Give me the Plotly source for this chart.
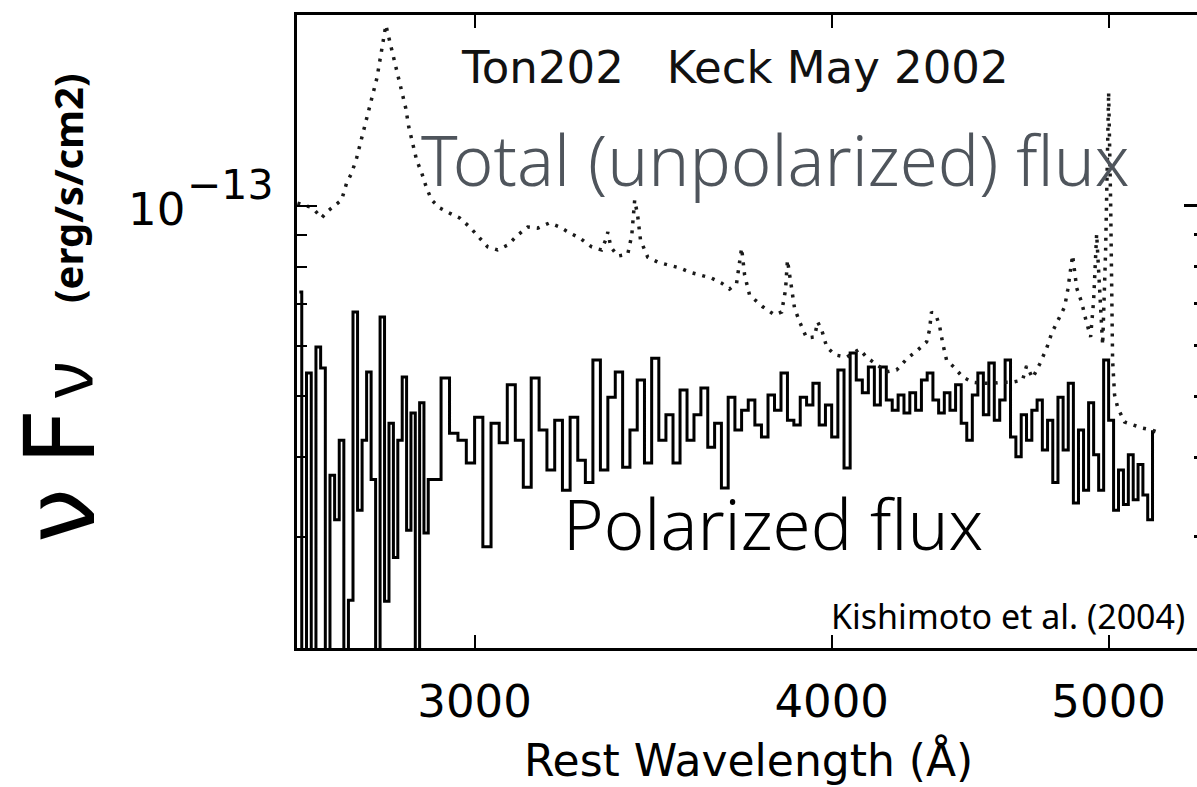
import numpy as np
import plotly.graph_objects as go

# ---------------- data (flux in units of 1e-14 erg/s/cm2) ----------------
wavelength_total = [
    2601, 2616, 2627, 2637, 2652, 2663, 2676, 2695, 2706, 2717,
    2728, 2737, 2746, 2755, 2764, 2773, 2779, 2786, 2793, 2801,
    2810, 2820, 2829, 2838, 2845, 2854, 2863, 2875, 2886, 2898,
    2917, 2940, 2964, 2988, 3012, 3032, 3056, 3081, 3106, 3131,
    3156, 3187, 3213, 3239, 3265, 3297, 3323, 3334, 3340, 3348,
    3367, 3394, 3405, 3413, 3421, 3429, 3449, 3477, 3505, 3539,
    3567, 3602, 3631, 3661, 3684, 3705, 3714, 3720, 3729, 3744,
    3784, 3820, 3842, 3854, 3860, 3870, 3882, 3898, 3920, 3945,
    3955, 3968, 3984, 4010, 4049, 4075, 4091, 4114, 4148, 4181,
    4215, 4252, 4287, 4318, 4328, 4335, 4353, 4364, 4374, 4388,
    4417, 4445, 4481, 4517, 4554, 4591, 4628, 4665, 4680, 4703,
    4730, 4757, 4776, 4799, 4826, 4838, 4850, 4857, 4873, 4893,
    4909, 4928, 4940, 4952, 4964, 4976, 4988, 5000, 5008, 5016,
    5024, 5037, 5065, 5098, 5139, 5176, 5197,
]
flux_total = [
    10.09, 10.02, 9.95, 9.84, 9.56, 9.77, 9.95, 10.20, 10.85, 11.25,
    11.89, 12.60, 13.41, 14.26, 15.06, 15.91, 16.86, 18.06, 19.28, 18.26,
    17.17, 16.20, 15.22, 14.26, 13.31, 12.56, 11.80, 11.25, 10.66, 10.20,
    9.91, 9.73, 9.56, 9.25, 8.89, 8.60, 8.51, 8.66, 8.98, 9.25,
    9.21, 9.39, 9.25, 9.05, 8.89, 8.60, 8.51, 8.82, 9.08, 8.60,
    8.32, 8.38, 8.98, 10.20, 9.66, 8.82, 8.29, 8.14, 8.06, 7.97,
    7.85, 7.77, 7.68, 7.54, 7.38, 7.54, 8.06, 8.57, 7.77, 7.22,
    6.92, 6.72, 6.79, 7.36, 8.20, 7.49, 6.89, 6.55, 6.18, 6.20,
    6.55, 6.36, 5.98, 5.81, 5.76, 5.87, 5.93, 5.76, 5.60, 5.46,
    5.50, 5.74, 5.91, 6.09, 6.36, 6.79, 6.67, 6.43, 6.07, 5.70,
    5.54, 5.36, 5.26, 5.24, 5.24, 5.26, 5.26, 5.30, 5.58, 5.34,
    5.62, 5.96, 6.29, 6.57, 6.92, 7.36, 7.91, 8.35, 7.41, 7.02,
    6.60, 6.20, 7.09, 9.02, 7.36, 6.02, 8.51, 15.11, 10.20, 5.70,
    5.02, 4.79, 4.55, 4.50, 4.45, 4.42, 4.39,
]

wavelength_pol = [
    2605, 2615, 2625, 2635, 2645, 2655, 2665, 2675, 2685, 2695,
    2705, 2715, 2725, 2735, 2745, 2755, 2765, 2775, 2785, 2795,
    2805, 2815, 2825, 2835, 2845, 2855, 2865, 2875, 2885, 2895,
    2910, 2930, 2950, 2970, 2990,
    3010, 3030, 3050, 3070, 3090, 3110, 3130, 3150, 3170, 3190,
    3210, 3230, 3250, 3270, 3290, 3310, 3330, 3350, 3370, 3390,
    3410, 3430, 3450, 3470, 3490, 3510, 3530, 3550, 3570, 3590,
    3610, 3630, 3650, 3670, 3690, 3710, 3730, 3750, 3770, 3790,
    3810, 3830, 3850, 3870, 3890, 3910, 3930, 3950, 3970, 3990,
    4010, 4030, 4050, 4070, 4090, 4110, 4130, 4150, 4170, 4190,
    4210, 4230, 4250, 4270, 4290, 4310, 4330, 4350, 4370, 4390,
    4410, 4430, 4450, 4470, 4490, 4510, 4530, 4550, 4570, 4590,
    4610, 4630, 4650, 4670, 4690, 4710, 4730, 4750, 4770, 4790,
    4810, 4830, 4850, 4870, 4890, 4910, 4930, 4950, 4970, 4990,
    5010, 5030, 5050, 5070, 5090, 5110, 5130, 5150, 5170, 5190,
]
flux_pol = [
    7.30, 1.0, 5.44, 1.0, 5.98, 5.54, 1.0, 3.75, 3.19, 4.26,
    1.0, 2.38, 6.79, 3.30, 4.26, 5.46, 3.69, 1.0, 6.67, 2.37,
    4.53, 2.78, 4.26, 5.36, 3.07, 4.70, 1.0, 4.88, 3.04, 3.69,
    3.69, 5.34, 4.37, 4.26, 3.92,
    4.63, 2.89, 4.53, 4.22, 5.21, 4.26, 3.59, 5.34, 4.42, 3.82,
    4.58, 3.55, 4.63, 3.96, 3.65, 5.70, 3.82, 4.98, 5.46, 3.86,
    4.42, 5.30, 3.92, 5.74, 4.26, 4.67, 3.92, 5.11, 4.26, 4.67,
    5.15, 4.15, 4.53, 3.58, 4.98, 4.42, 4.75, 4.93, 4.50, 4.31,
    5.02, 4.75, 5.44, 4.58, 4.50, 4.98, 4.84, 5.24, 4.50, 4.84,
    4.31, 5.50, 3.85, 5.85, 5.30, 5.06, 5.56, 4.84, 5.56, 4.93,
    4.75, 5.02, 4.70, 5.06, 4.75, 5.30, 5.44, 4.93, 4.70, 5.06,
    4.75, 5.21, 4.53, 4.26, 5.02, 5.44, 4.67, 5.64, 4.58, 4.93,
    5.70, 4.31, 4.01, 4.67, 4.26, 4.75, 4.93, 4.11, 4.58, 3.65,
    4.98, 4.11, 5.24, 3.39, 4.42, 3.55, 4.88, 4.04, 3.55, 5.70,
    4.58, 3.30, 3.82, 3.37, 4.04, 3.43, 3.90, 3.49, 3.19, 4.39,
]

x_tick_values = [3000, 4000, 5000]
x_tick_labels = ["3000", "4000", "5000"]
y_major_ticks = [1e-13]
y_minor_ticks = [2e-14, 3e-14, 4e-14, 5e-14, 6e-14, 7e-14, 8e-14, 9e-14]
x_range = [2600, 5369]
y_range = [2e-14, 2e-13]
FLUX_UNIT = 1e-14

# ---------------- layout geometry (pixels) ----------------
W, H = 1197, 787
L, R, T, B = 297, 1197, 15, 648


def px(xp):
    return (xp - L) / (R - L)


def py(yp):
    return (B - yp) / (B - T)


fig = go.Figure()
fig.add_trace(go.Scatter(
    x=wavelength_pol, y=np.array(flux_pol) * FLUX_UNIT, mode="lines",
    line=dict(color="black", width=3.0, shape="hvh"),
    showlegend=False, hoverinfo="skip"))
fig.add_trace(go.Scatter(
    x=wavelength_total, y=np.array(flux_total) * FLUX_UNIT, mode="lines",
    line=dict(color="#1a1a1a", width=3.5, dash="3px,7px"),
    showlegend=False, hoverinfo="skip"))
# carrier trace so the mirrored right-hand tick axis is drawn
fig.add_trace(go.Scatter(
    x=wavelength_total[:1], y=[flux_total[0] * FLUX_UNIT], yaxis="y2",
    mode="lines", line=dict(width=0), showlegend=False, hoverinfo="skip"))

axis_font = dict(family="DejaVu Sans", size=45, color="black")
fig.update_layout(
    width=W, height=H,
    margin=dict(l=L, r=W - R, t=T, b=H - B, pad=0),
    paper_bgcolor="white", plot_bgcolor="white",
    xaxis=dict(
        type="log", range=[np.log10(x_range[0]), np.log10(x_range[1])],
        tickvals=x_tick_values, ticktext=x_tick_labels,
        ticks="inside", ticklen=13, tickwidth=2, tickcolor="black",
        showline=True, linewidth=3, linecolor="black", mirror="ticks",
        showgrid=False, zeroline=False, tickfont=axis_font,
        ticklabelstandoff=12,
    ),
    yaxis=dict(
        type="log", range=[np.log10(y_range[0]), np.log10(y_range[1])],
        tickvals=y_major_ticks, ticktext=[""],
        ticks="inside", ticklen=20, tickwidth=2, tickcolor="black",
        minor=dict(ticks="inside", ticklen=10, tickwidth=2, tickcolor="black",
                   tickvals=y_minor_ticks),
        showline=True, linewidth=3, linecolor="black", mirror=False,
        showgrid=False, zeroline=False,
    ),
    yaxis2=dict(
        type="log", range=[np.log10(y_range[0]), np.log10(y_range[1])],
        overlaying="y", side="right", anchor="x",
        tickvals=y_major_ticks, showticklabels=False,
        ticks="inside", ticklen=13, tickwidth=3, tickcolor="black",
        minor=dict(ticks="inside", ticklen=3, tickwidth=3, tickcolor="black",
                   tickvals=y_minor_ticks),
        showline=False, showgrid=False, zeroline=False,
    ),
)

ann = []
# y tick label 10^-13
ann.append(dict(text="10", x=px(186), y=py(209), xanchor="right", yanchor="middle",
                font=dict(family="DejaVu Sans", size=45, color="black")))
ann.append(dict(text="\u221213", x=px(186), y=py(185), xanchor="left", yanchor="middle",
                font=dict(family="DejaVu Sans", size=41, color="black")))
# x axis title
ann.append(dict(text="Rest Wavelength (\u00c5)", x=px(748), y=py(760),
                xanchor="center", yanchor="middle",
                font=dict(family="DejaVu Sans", size=44, color="black")))
# in-plot labels
ann.append(dict(text="Ton202   Keck May 2002", x=px(460), y=py(67),
                xanchor="left", yanchor="middle",
                font=dict(family="DejaVu Sans", size=45, color="#111111")))
ann.append(dict(text="Total (unpolarized) flux", x=px(420), y=py(159),
                xanchor="left", yanchor="middle",
                font=dict(family="Noto Sans", size=69, color="#4f555c", weight=300)))
ann.append(dict(text="Polarized flux", x=px(562), y=py(523),
                xanchor="left", yanchor="middle",
                font=dict(family="Noto Sans", size=69, color="black", weight=300)))
ann.append(dict(text="Kishimoto et al. (2004)", x=px(1186), y=py(616),
                xanchor="right", yanchor="middle",
                font=dict(family="Noto Sans", size=34, color="black")))
# y axis title pieces (rotated)
ann.append(dict(text="\u03bd", x=px(60), y=py(516), textangle=-90,
                xanchor="center", yanchor="middle",
                font=dict(family="DejaVu Sans", size=98, color="black")))
ann.append(dict(text="F", x=px(60), y=py(437), textangle=-90,
                xanchor="center", yanchor="middle",
                font=dict(family="DejaVu Sans", size=98, color="black")))
ann.append(dict(text="\u03bd", x=px(65), y=py(380), textangle=-90,
                xanchor="center", yanchor="middle",
                font=dict(family="Noto Sans", size=70, color="black")))
ann.append(dict(text="<b>(erg/s/cm2)</b>", x=px(67), y=py(188), textangle=-90,
                xanchor="center", yanchor="middle",
                font=dict(family="Noto Sans", size=40, color="black")))

for a in ann:
    a.update(xref="paper", yref="paper", showarrow=False, borderpad=0)
fig.update_layout(annotations=ann)

fig.write_html("out.html")
